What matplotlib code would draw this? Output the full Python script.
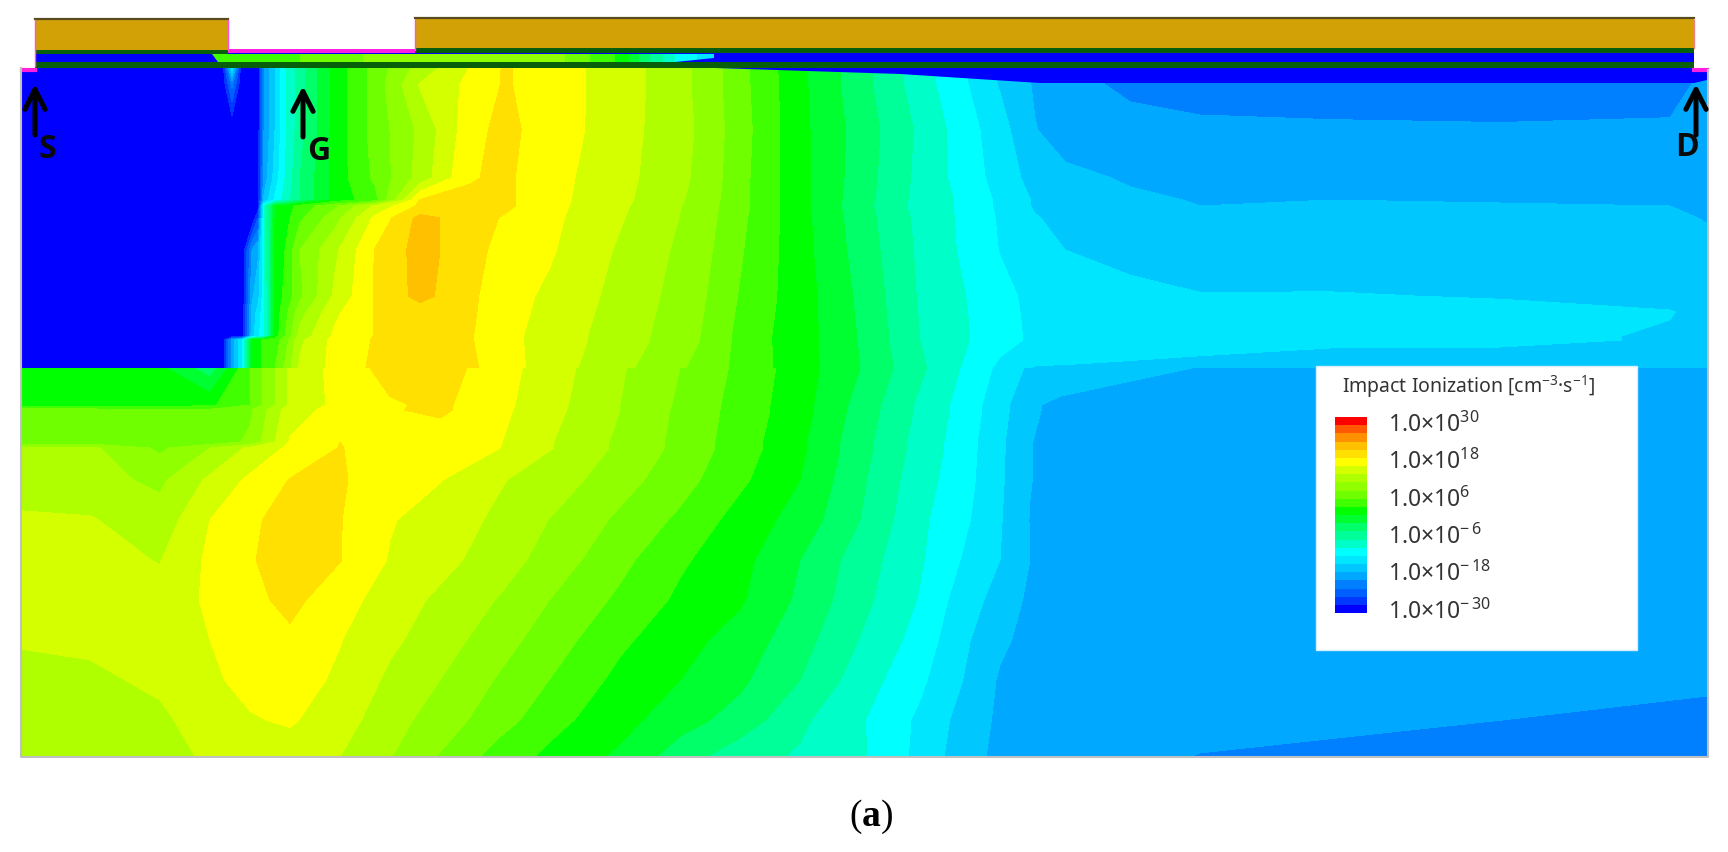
import matplotlib
matplotlib.use("Agg")
import matplotlib.pyplot as plt
from matplotlib.colors import BoundaryNorm, ListedColormap
from matplotlib.patches import Rectangle, Polygon
import numpy as np

plt.rcParams["font.family"] = ["Noto Sans", "DejaVu Sans"]
plt.rcParams["mathtext.fontset"] = "custom"
plt.rcParams["mathtext.default"] = "regular"
plt.rcParams["mathtext.bf"] = "Liberation Serif:bold"

# exponent of the impact ionization, band edges and the colour of each band
levels = np.arange(-30, 30.1, 2.5)
band_colors = ["#0000ff", "#0038ff", "#0060ff", "#0080ff", "#00a8ff", "#00c8ff",
               "#00e6ff", "#00ffff", "#00ffc8", "#00ff98", "#00ff68", "#00ff30",
               "#00ff00", "#40ff00", "#70ff00", "#90ff00", "#b0ff00", "#d4ff00",
               "#ffff00", "#ffe000", "#ffc000", "#ff9000", "#ff5800", "#ff0000"]

# upper semiconductor layer, sampled on the picture
upper_x = [22, 222, 232, 242, 252, 258, 264, 275, 285, 300, 335, 375, 420, 470, 505, 550,
           600, 650, 700, 750, 800, 860, 920, 960, 1000, 1035, 1065, 1130, 1200, 1330, 1500, 1670, 1707]
upper_y = [68, 85, 130, 178, 200, 206, 218, 250, 296, 312, 336, 340, 368]
upper_z = [
    [-30, -30, -14, -30, -30, -29, -20, -15, -10.5, -6, 1, 6, 11, 15.1, 17.8, 16, 14.6, 12.3, 9.5, 5, 0.5, -4, -9, -12, -15.5, -18, -19.4, -21, -21.5, -21.5, -21.5, -21, -19.4],
    [-30, -30, -22, -30, -30, -29, -20, -15, -10.5, -6, 1, 6, 12.7, 15.6, 17.8, 16, 14.6, 12.3, 9.5, 5, 0.6, -4, -8.8, -11.8, -15.2, -17.8, -19, -20.6, -21, -21, -21, -20.8, -19.4],
    [-30, -30, -30, -30, -30, -29, -20, -15, -10.5, -6, 1, 6, 10.5, 16.5, 18.4, 15.9, 14.6, 12.2, 9.7, 5.2, 0.7, -3.5, -8, -11, -14, -17.4, -18.5, -19, -19.5, -19.7, -19.8, -19.7, -19.2],
    [-30, -30, -30, -30, -30, -29, -19, -14, -10, -5, 1, 5.5, 11, 17.3, 18, 15.8, 14.2, 12, 9.5, 5, 0.8, -3.7, -8.2, -10.8, -13.5, -16, -17, -17.7, -18.4, -18.2, -18.4, -18.4, -18.5],
    [-30, -30, -30, -30, -30, -29, -17, -12, -9, -5, 1, 4, 17.6, 18, 18, 15.8, 13.9, 11.8, 9.2, 5, 0.8, -3.9, -8.4, -10.3, -13, -15.3, -16.3, -17.2, -17.6, -17.5, -17.6, -17.7, -18],
    [-30, -30, -30, -30, -30, -29, -10, 0, 1, 3.5, 7, 13, 18, 18, 18, 15.8, 13.7, 11.7, 9, 5, 0.8, -4, -8.5, -10.3, -13, -15.3, -16.2, -17.1, -17.5, -17.4, -17.4, -17.5, -17.9],
    [-30, -30, -30, -30, -30, -25, -10, 0, 1.5, 4.5, 9, 15.5, 20.8, 18.8, 17.2, 15.6, 13.5, 11.5, 8.9, 4.8, 0.9, -3.8, -8.2, -10.3, -12.8, -14.8, -15.8, -16.7, -17, -16.9, -17.1, -17.2, -17.6],
    [-30, -30, -30, -30, -20, -18, -10, 1, 2.5, 7.5, 12, 17.6, 21, 18.5, 16.5, 15.3, 13, 11, 8.5, 4.5, 1, -3.5, -8, -10.2, -12.6, -14, -15, -15.6, -16.2, -16, -16.4, -16.6, -17],
    [-30, -30, -30, -30, -18, -16, -11, 1, 3, 7, 13, 17.7, 20.8, 18, 16, 14.5, 12.5, 10.5, 8, 4, 1.2, -3, -7.8, -9.7, -11.8, -13.2, -13.8, -14.5, -14.9, -14.9, -15.1, -15.7, -16],
    [-30, -30, -30, -30, -17, -14, -11, 1, 4, 9, 14.5, 17.6, 18.9, 17.9, 15.9, 14.3, 12.3, 10.3, 7.8, 3.8, 1.2, -2.9, -7.7, -9.6, -11.7, -13.1, -13.6, -14.1, -14.4, -14.6, -14.6, -14.9, -15.6],
    [-30, -30, -30, -30, -16, -13, -11, 1, 5, 11, 15.5, 17.6, 18.6, 17.7, 15.7, 14, 12, 10, 7.5, 3.5, 1.2, -2.7, -7.5, -9.5, -11.6, -13, -13.5, -13.8, -14, -14.3, -14.5, -15.2, -15.6],
    [-30, -30, -19, -13, 1, 2, 3, 4, 6, 12, 15.8, 17.7, 18.6, 17.7, 15.7, 14, 12, 10, 7.5, 3.5, 1.2, -2.7, -7.5, -9.5, -11.6, -13, -13.5, -13.9, -14.1, -14.4, -14.5, -15.2, -15.6],
    [-30, -30, -19, -13, 1, 2, 3, 5, 8, 13, 15.8, 18, 18.6, 18, 16, 13.8, 11.5, 9.3, 6.8, 3.6, 1.2, -2.5, -7, -10, -13.1, -15.2, -15.2, -15.4, -15.7, -16.5, -16.5, -16.6, -17],
]

# lower layer, there is a jump in the field between the two
lower_x = [22, 90, 160, 210, 250, 290, 340, 390, 440, 500, 560, 620, 680, 740, 800, 860,
           920, 960, 1000, 1030, 1060, 1200, 1400, 1707]
lower_y = [368, 405, 410, 442, 448, 480, 520, 560, 600, 640, 680, 720, 757]
lower_z = [
    [1.2, 1.2, 0.5, -4, 5, 13, 16, 18.5, 18.7, 16, 13.3, 10.3, 7.5, 4.4, 1.2, -2.5, -7, -10, -13.1, -15.5, -15.9, -17.6, -18, -18],
    [1.2, 1.2, 1.2, 2, 5, 13, 15.8, 17.2, 18, 15.7, 12.9, 10, 7.1, 4, 1, -3.4, -8, -10.7, -14, -17.2, -18, -18.7, -18.7, -18.7],
    [6, 6, 5.5, 5.5, 7, 14, 15.9, 17.3, 18, 15.6, 12.8, 10, 7, 4, 1, -3.5, -8, -10.7, -14, -17.2, -18, -18.7, -18.7, -18.7],
    [6, 6, 5, 5.8, 8, 15.2, 17.5, 16.6, 16, 15.1, 12.2, 9.5, 6.8, 3.7, 0.5, -4, -8.5, -11, -14.5, -17.4, -18.5, -18.7, -18.7, -18.7],
    [10.5, 10.5, 7, 10, 13, 15.5, 17.6, 16.3, 15.8, 15, 12.2, 9.5, 6.8, 3.7, 0.5, -4, -8.5, -11, -14.5, -17.4, -18.5, -18.7, -18.7, -18.7],
    [10.8, 10.8, 9.5, 13, 15.5, 17.6, 17.8, 15.9, 15.1, 12.7, 11, 8.5, 6, 3, 0, -4.5, -9, -11.2, -14.6, -17.4, -18.7, -18.7, -18.7, -18.7],
    [13, 12.7, 11, 15, 17, 18.6, 17.6, 15.2, 13.8, 12, 9.5, 7, 4.5, 1.5, -1, -5, -9.5, -11.7, -14.8, -17.6, -18.7, -18.7, -18.7, -18.7],
    [13.4, 13.2, 12.4, 15.5, 17.3, 18.6, 17.6, 14.8, 13.3, 11.2, 8.5, 5.7, 2.9, 0.8, -2.5, -6.2, -9.7, -12.5, -15, -17.5, -18.7, -18.7, -18.7, -18.7],
    [13.6, 13.4, 13.2, 15.5, 16.8, 18.2, 16, 13.8, 12, 9.8, 7, 4.5, 2, 0.3, -3, -6.7, -10.2, -13.5, -16, -18, -18.7, -18.7, -18.7, -18.7],
    [12.8, 13, 13.4, 15, 16.5, 17, 15.1, 13, 11.2, 8.5, 5.8, 3, 0.9, -1, -4, -7.6, -11, -14.3, -17, -18.3, -18.7, -18.7, -18.7, -18.7],
    [11.5, 12, 13, 14.6, 15.7, 16, 14.6, 12, 10, 7.2, 4.5, 1.8, 0, -2, -5, -8.7, -12, -14.8, -17.8, -18.5, -18.7, -18.7, -18.7, -19.6],
    [11, 11.2, 12, 13.8, 14.8, 15.3, 13.6, 11, 8.8, 6, 3, 0.9, -1.5, -3.5, -7, -9.7, -13, -15.7, -18, -18.7, -18.7, -19.2, -19.7, -20.6],
    [11, 11, 12, 12.7, 13.5, 13.8, 12.5, 10.1, 7.3, 3.8, 1.5, -0.5, -3.8, -6.6, -7.8, -9.6, -13.2, -16.2, -18.2, -18.7, -18.7, -20.1, -20.7, -21],
]

# thin channel under the gate
channel_x = [212, 300, 400, 480, 560, 620, 650, 680, 714]
channel_z = [3, 5, 9, 10, 8, 2, -5, -11, -14]

legend_exponents = ["30", "18", "6", "-6", "-18", "-30"]

fig = plt.figure(figsize=(17.28, 8.52), dpi=100)
ax = fig.add_axes([0, 0, 1, 1])

ax.contourf(upper_x, upper_y, upper_z, levels=levels, colors=band_colors)
ax.contourf(lower_x, lower_y, lower_z, levels=levels, colors=band_colors)

# blue wedge at the top of the drift region
ax.add_patch(Polygon([(715, 68), (900, 74), (1040, 83), (1694, 83), (1707, 80), (1707, 72), (1694, 68)],
                     fc="#0000ff", ec="none"))

# device stack above the field
gold = "#d2a106"
dark_green = "#075f0c"
ax.add_patch(Rectangle((35, 53), 1659, 9, fc="#0000ff", ec="none"))
ax.contourf(channel_x, [53.5, 62], [channel_z, channel_z], levels=levels, colors=band_colors, zorder=2)
ax.add_patch(Polygon([(212, 53.5), (212, 62), (218, 62)], fc="#0000ff", ec="none", zorder=2.5))
ax.add_patch(Polygon([(675, 62), (714, 58), (714, 62)], fc="#0000ff", ec="none", zorder=2.5))
ax.add_patch(Rectangle((35, 62), 1659, 6, fc=dark_green, ec="none", zorder=3))
ax.add_patch(Rectangle((35, 19), 193, 31, fc=gold, ec="none", zorder=3))
ax.add_patch(Rectangle((415, 18), 1279, 30, fc=gold, ec="none", zorder=3))
ax.add_patch(Rectangle((35, 50), 193, 4, fc=dark_green, ec="none", zorder=3))
ax.add_patch(Rectangle((415, 48), 1279, 5, fc=dark_green, ec="none", zorder=3))
ax.add_patch(Rectangle((228, 49), 187, 4, fc="#ff20e0", ec="none", zorder=3))
ax.plot([35, 228], [19, 19], color="#5a4a20", lw=1.6, zorder=4)
ax.plot([415, 1694], [18, 18], color="#5a4a20", lw=1.6, zorder=4)
ax.plot([35, 35], [20, 66], color="#ff50e0", lw=1, zorder=4)
ax.plot([22, 35], [70, 70], color="#ff20e0", lw=3, zorder=4)
ax.plot([228, 228], [20, 50], color="#ff50e0", lw=1, zorder=4)
ax.plot([415, 415], [20, 50], color="#ff50e0", lw=1, zorder=4)
ax.plot([1694, 1707], [70, 70], color="#ff20e0", lw=3, zorder=4)
ax.plot([1694, 1694], [20, 48], color="#f08080", lw=1, zorder=4)

# grey frame of the original screenshot
ax.plot([21, 21, 1708, 1708], [68, 757, 757, 70], color="#c0c0c0", lw=1.5, zorder=4)

# contact markers
for x0, y0, x1, y1, name, tx, ty in [(35, 135, 35, 84, "S", 47, 150),
                                     (303, 137, 303, 86, "G", 319, 152),
                                     (1696, 135, 1696, 84, "D", 1687, 147)]:
    ax.annotate("", xy=(x1, y1), xytext=(x0, y0), zorder=6,
                arrowprops=dict(arrowstyle="->,head_length=0.55,head_width=0.28", color="black",
                                lw=3.6, mutation_scale=26, shrinkA=0, shrinkB=0))
    ax.text(tx, ty, name, fontsize=23, family="Open Sans", fontweight="bold", color="#0a0a0a",
            ha="center", va="center", zorder=6)

# legend box
ax.add_patch(Rectangle((1316, 366), 321, 284, fc="white", ec="#d8eeff", lw=1, zorder=5))
ax.text(1342, 387, "Impact Ionization [cm$^{-3}$·s$^{-1}$]", fontsize=14, color="#333333",
        ha="left", va="center", zorder=6)
for i, label in enumerate(legend_exponents):
    exp_text = label.replace("-", "{-}\\,")
    ax.text(1388, 425 + i * 37.4, "1.0×10$^{%s}$" % exp_text, fontsize=16.5, color="#333333",
            ha="left", va="center", zorder=6)

# (a) caption
ax.text(871, 817, "($\\mathbf{a}$)", fontsize=27, family="Liberation Serif",
        ha="center", va="center", color="black")

ax.set_xlim(0, 1728)
ax.set_ylim(852, 0)
ax.axis("off")

# colour bar of the legend
cax = fig.add_axes([1335 / 1728, 1 - 613 / 852, 32 / 1728, 196 / 852], zorder=10)
cmap = ListedColormap(band_colors)
norm = BoundaryNorm(levels, cmap.N)
cax.pcolormesh([0, 1], levels, ((levels[:-1] + levels[1:]) / 2).reshape(-1, 1), cmap=cmap, norm=norm)
cax.axis("off")

fig.savefig("out.png", dpi=100, facecolor="white")
